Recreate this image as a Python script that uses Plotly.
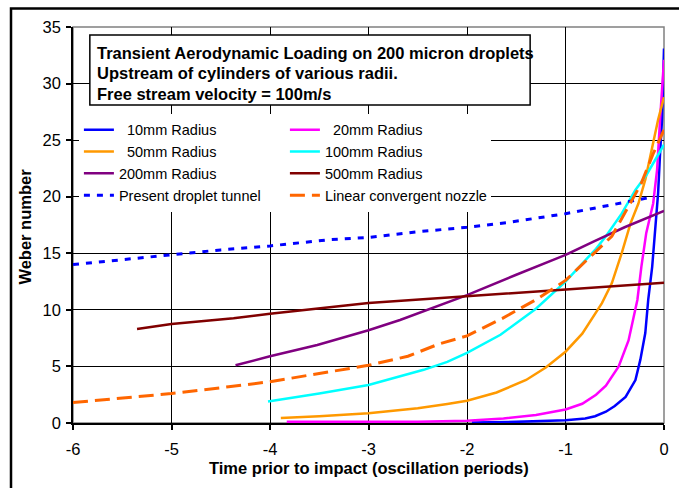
import plotly.graph_objects as go

# Weber number histories (time in oscillation periods before impact)
t_10mm = [-1.95, -1.5, -1.0, -0.8, -0.7, -0.59, -0.5, -0.39, -0.29, -0.24, -0.19, -0.16, -0.12, -0.09, -0.06, -0.04, -0.02, 0.0]
we_10mm = [0.05, 0.1, 0.25, 0.4, 0.6, 1.0, 1.5, 2.3, 3.8, 5.6, 7.95, 10.9, 13.8, 17.4, 20.3, 23.8, 26.8, 33.1]

t_20mm = [-3.83, -2.5, -2.0, -1.63, -1.3, -1.0, -0.83, -0.69, -0.59, -0.46, -0.36, -0.27, -0.23, -0.18, -0.11, -0.07, -0.04, -0.02, 0.0]
we_20mm = [0.1, 0.12, 0.2, 0.4, 0.7, 1.2, 1.7, 2.5, 3.3, 5.0, 7.3, 10.9, 13.8, 16.8, 19.4, 22.4, 26.8, 29.7, 32.1]

t_50mm = [-3.89, -3.5, -3.0, -2.5, -2.2, -2.0, -1.7, -1.4, -1.2, -1.0, -0.83, -0.69, -0.63, -0.53, -0.43, -0.34, -0.26, -0.19, -0.11, -0.06, 0.0]
we_50mm = [0.45, 0.6, 0.86, 1.3, 1.68, 1.97, 2.7, 3.8, 4.9, 6.3, 7.9, 9.85, 10.6, 12.35, 15.0, 17.65, 19.4, 21.5, 24.7, 26.8, 28.8]

t_100mm = [-4.02, -3.5, -3.0, -2.44, -2.2, -2.0, -1.66, -1.3, -1.0, -0.8, -0.69, -0.59, -0.43, -0.29, -0.18, 0.0]
we_100mm = [1.9, 2.6, 3.36, 4.7, 5.4, 6.2, 7.8, 10.1, 12.5, 14.4, 15.4, 16.5, 18.5, 20.6, 21.9, 24.6]

t_200mm = [-4.35, -4.0, -3.52, -3.0, -2.68, -2.3, -2.0, -1.5, -1.0, -0.7, -0.4, 0.0]
we_200mm = [5.1, 5.9, 6.9, 8.2, 9.1, 10.3, 11.3, 13.1, 14.85, 16.1, 17.3, 18.75]

t_500mm = [-5.35, -5.0, -4.37, -4.0, -3.0, -2.0, -1.0, 0.0]
we_500mm = [8.3, 8.75, 9.26, 9.65, 10.6, 11.2, 11.8, 12.4]

t_tunnel = [-6.0, -5.0, -4.5, -4.0, -3.4, -3.0, -2.5, -2.0, -1.6, -1.0, -0.5, -0.1]
we_tunnel = [14.0, 14.85, 15.3, 15.65, 16.2, 16.4, 16.9, 17.3, 17.7, 18.5, 19.3, 20.0]

t_nozzle = [-6.0, -5.0, -4.42, -4.0, -3.0, -2.6, -2.28, -2.0, -1.64, -1.3, -1.0, -0.83, -0.66, -0.53, -0.35, -0.23, -0.11, 0.0]
we_nozzle = [1.8, 2.6, 3.2, 3.65, 5.1, 5.9, 7.0, 7.7, 9.25, 10.9, 12.6, 14.0, 15.4, 16.5, 19.3, 21.2, 23.8, 25.9]

x_ticks = [-6, -5, -4, -3, -2, -1, 0]
x_tick_text = ["-6", "-5", "-4", "-3", "-2", "-1", "0"]
y_ticks = [0, 5, 10, 15, 20, 25, 30, 35]

title_lines = [
    "Transient Aerodynamic Loading on 200 micron droplets",
    "Upstream of cylinders of various radii.",
    "Free stream velocity = 100m/s",
]

FONT = "Arial, Liberation Sans, sans-serif"

series = [
    ("  10mm Radius", t_10mm, we_10mm, "#0000FF", None),
    ("  20mm Radius", t_20mm, we_20mm, "#FF00FF", None),
    ("  50mm Radius", t_50mm, we_50mm, "#FF9900", None),
    ("100mm Radius", t_100mm, we_100mm, "#00FFFF", None),
    ("200mm Radius", t_200mm, we_200mm, "#800080", None),
    ("500mm Radius", t_500mm, we_500mm, "#800000", None),
    ("Present droplet tunnel", t_tunnel, we_tunnel, "#0000FF", "6px,7px"),
    ("Linear convergent nozzle", t_nozzle, we_nozzle, "#FF6600", "15px,7px"),
]

fig = go.Figure()
for name, xs, ys, color, dash in series:
    line = dict(color=color, width=3 if dash else 2.5)
    if dash:
        line["dash"] = dash
    fig.add_trace(go.Scatter(x=xs, y=ys, mode="lines", name=name, line=line))

shapes = [
    # outer chart frame
    dict(type="rect", xref="paper", yref="paper", x0=-0.1049, x1=2.0, y0=-1.0, y1=1.0467,
         line=dict(color="black", width=2.5), fillcolor="rgba(0,0,0,0)", layer="below"),
    # plot area frame (top/right in grey)
    dict(type="rect", xref="paper", yref="paper", x0=0, x1=1, y0=0, y1=1,
         line=dict(color="#808080", width=1.5), layer="below"),
    # title box
    dict(type="rect", xref="paper", yref="paper", x0=0.0285, x1=0.7735, y0=0.803, y1=0.980,
         line=dict(color="black", width=1.5), fillcolor="white", layer="above"),
]

annotations = []
for txt, yy in zip(title_lines, [0.934, 0.8838, 0.8308]):
    annotations.append(dict(text="<b>%s</b>" % txt, xref="paper", yref="paper", x=0.0369, y=yy,
                            xanchor="left", yanchor="middle", showarrow=False,
                            font=dict(family=FONT, size=16.5, color="black")))
annotations.append(dict(text="<b>Time prior to impact (oscillation periods)</b>", xref="paper", yref="paper",
                        x=0.5, y=-0.1136, xanchor="center", yanchor="middle", showarrow=False,
                        font=dict(family=FONT, size=16.5, color="black")))
annotations.append(dict(text="<b>Weber number</b>", xref="paper", yref="paper",
                        x=-0.0805, y=0.497, xanchor="center", yanchor="middle", showarrow=False,
                        textangle=-90, font=dict(family=FONT, size=16.5, color="black")))

fig.update_layout(
    width=679, height=488,
    margin=dict(l=73, r=10, t=27, b=65),
    paper_bgcolor="white", plot_bgcolor="white",
    font=dict(family=FONT, size=16.5, color="black"),
    showlegend=True,
    legend=dict(orientation="h", x=0.01, y=0.781, xanchor="left", yanchor="top",
                bgcolor="white", borderwidth=0, entrywidth=161, entrywidthmode="pixels",
                font=dict(family=FONT, size=14.5, color="black"), traceorder="normal",
                itemwidth=30),
    xaxis=dict(range=[-6, 0], tickvals=x_ticks, ticktext=x_tick_text,
               showgrid=True, gridcolor="black", gridwidth=1, zeroline=False,
               showline=True, linecolor="black", linewidth=1.5,
               ticks="outside", ticklen=5, tickcolor="black", tickwidth=1.5,
               ticklabelstandoff=5, tickfont=dict(size=16.5)),
    yaxis=dict(range=[0, 35], tickvals=y_ticks,
               showgrid=True, gridcolor="black", gridwidth=1, zeroline=False,
               showline=True, linecolor="black", linewidth=1.5,
               ticks="outside", ticklen=5, tickcolor="black", tickwidth=1.5,
               ticklabelstandoff=2, tickfont=dict(size=16.5)),
    shapes=shapes,
    annotations=annotations,
)

fig.write_html("out.html")
